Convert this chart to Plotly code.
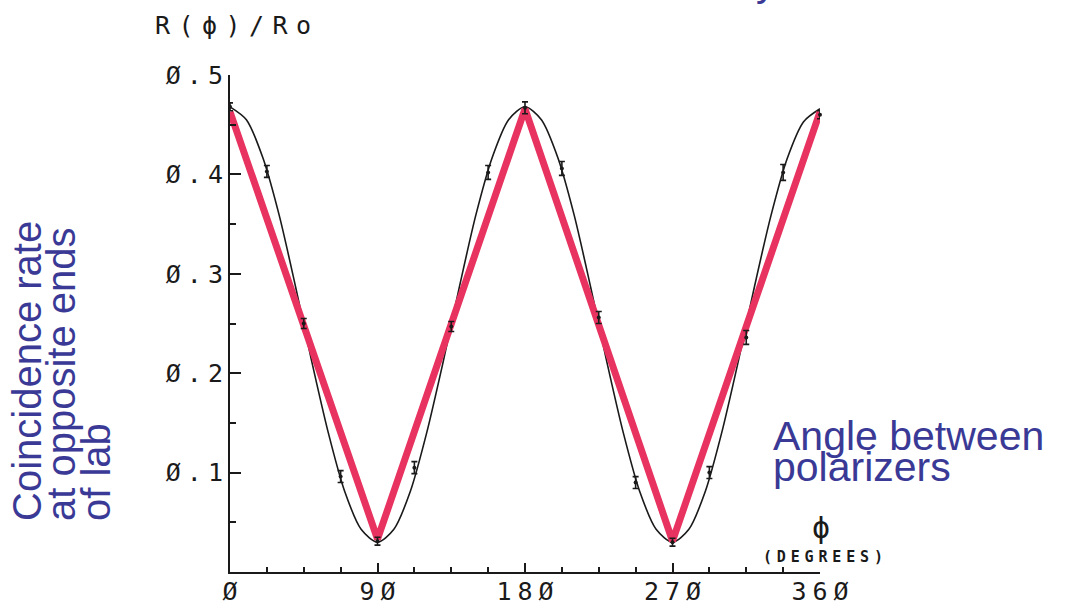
import plotly.graph_objects as go

# Measured coincidence rate R(phi)/R0 versus angle between polarizers
angle_pts = [0, 22.5, 45, 67.5, 90, 112.5, 135, 157.5, 180,
             202.5, 225, 247.5, 270, 292.5, 315, 337.5, 360]
rate_pts = [0.468, 0.403, 0.250, 0.096, 0.031, 0.105, 0.247, 0.402, 0.467,
            0.406, 0.256, 0.090, 0.030, 0.100, 0.236, 0.402, 0.460]
rate_err = [0.004, 0.006, 0.005, 0.006, 0.004, 0.006, 0.005, 0.007, 0.006,
            0.007, 0.006, 0.006, 0.004, 0.006, 0.007, 0.008, 0.004]

# Smooth theoretical curve, read every 10 degrees
curve_angle = [0, 10, 20, 30, 40, 50, 60, 70, 80, 90,
               100, 110, 120, 130, 140, 150, 160, 170, 180,
               190, 200, 210, 220, 230, 240, 250, 260, 270,
               280, 290, 300, 310, 320, 330, 340, 350, 360]
curve_rate = [0.468, 0.455, 0.417, 0.359, 0.287, 0.211, 0.140, 0.081, 0.043, 0.030,
              0.043, 0.081, 0.140, 0.211, 0.287, 0.359, 0.417, 0.455, 0.468,
              0.455, 0.417, 0.359, 0.287, 0.211, 0.140, 0.081, 0.043, 0.030,
              0.043, 0.081, 0.140, 0.211, 0.287, 0.358, 0.416, 0.453, 0.466]

# Straight-line (linear) prediction
zig_angle = [0, 90, 180, 270, 360]
zig_rate = [0.463, 0.033, 0.466, 0.031, 0.463]

x_ticks = [0, 90, 180, 270, 360]
x_tick_chars = ["Ø", "9Ø", "18Ø", "27Ø", "36Ø"]
y_ticks = [0.1, 0.2, 0.3, 0.4, 0.5]
y_tick_chars = ["Ø.1", "Ø.2", "Ø.3", "Ø.4", "Ø.5"]

W, H = 1067, 608
L, R, T, B = 230, 247, 75, 36
INK = "#1a1a1a"
RED = "#E8325F"
BLUE = "#3A3A96"
MONO = "DejaVu Sans Mono"
SANS = "Liberation Sans, Arial, sans-serif"


def spaced(s, gap_px):
    """Plotter-style lettering: narrow spaces between characters."""
    gap = f"<span style='font-size:{gap_px}px'> </span>"
    return gap.join(s)


def px_x(px):
    return (px - L) / (W - L - R)


def px_y(py):
    return (H - B - py) / (H - T - B)


fig = go.Figure()

fig.add_trace(go.Scatter(
    x=curve_angle, y=curve_rate, mode="lines",
    line=dict(color=INK, width=1.6, shape="spline", smoothing=0.8),
    cliponaxis=False, hoverinfo="skip"))

fig.add_trace(go.Scatter(
    x=zig_angle, y=zig_rate, mode="lines",
    line=dict(color=RED, width=7), cliponaxis=False, hoverinfo="skip"))

fig.add_trace(go.Scatter(
    x=angle_pts, y=rate_pts, mode="markers",
    marker=dict(size=4, color=INK),
    error_y=dict(type="data", array=rate_err, color=INK, thickness=1.6, width=3),
    cliponaxis=False))


def note(text, x, y, size, family, color, xanchor="center", yanchor="middle", angle=0):
    return dict(text=text, xref="paper", yref="paper", x=px_x(x), y=px_y(y),
                xanchor=xanchor, yanchor=yanchor, textangle=angle, showarrow=False,
                font=dict(family=family, size=size, color=color))


ann = [
    note(spaced("R(ϕ)/Ro", 14), 153, 26, 25, MONO, INK, xanchor="left"),
    note("ϕ", 821, 527, 30, MONO, INK),
    note("<b>" + spaced("(DEGREES)", 8) + "</b>", 823, 557, 15, MONO, INK),
    note("Angle between", 771, 436, 41, SANS, BLUE, xanchor="left"),
    note("polarizers", 771, 467, 41, SANS, BLUE, xanchor="left"),
    note("Coincidence rate", 27, 523, 40, SANS, BLUE, yanchor="bottom", angle=-90),
    note("at opposite ends", 61, 523, 40, SANS, BLUE, yanchor="bottom", angle=-90),
    note("of lab", 96, 523, 40, SANS, BLUE, yanchor="bottom", angle=-90),
    # heading running off the top edge
    note("y", 766, 6, 40, SANS, BLUE, yanchor="bottom"),
]

fig.update_layout(
    width=W, height=H, autosize=False,
    margin=dict(l=L, r=R, t=T, b=B, pad=0, autoexpand=False),
    paper_bgcolor="white", plot_bgcolor="white",
    showlegend=False, annotations=ann,
    xaxis=dict(range=[0, 360], showgrid=False, zeroline=False, automargin=False,
               showline=True, linecolor=INK, linewidth=2,
               ticks="inside", ticklen=9, tickwidth=1.5, tickcolor=INK,
               tickvals=x_ticks, ticktext=[spaced(t, 10) for t in x_tick_chars],
               tickfont=dict(family=MONO, size=25, color=INK),
               ticklabelstandoff=-4,
               minor=dict(tick0=0, dtick=22.5, ticks="inside", ticklen=5,
                          tickwidth=1.5, tickcolor=INK, showgrid=False)),
    yaxis=dict(range=[0, 0.5], showgrid=False, zeroline=False, automargin=False,
               showline=True, linecolor=INK, linewidth=2,
               ticks="inside", ticklen=11, tickwidth=1.5, tickcolor=INK,
               tickvals=y_ticks, ticktext=[spaced(t, 10) for t in y_tick_chars],
               tickfont=dict(family=MONO, size=25, color=INK),
               minor=dict(tick0=0, dtick=0.05, ticks="inside", ticklen=6,
                          tickwidth=1.5, tickcolor=INK, showgrid=False)),
)

fig.write_html("out.html")
